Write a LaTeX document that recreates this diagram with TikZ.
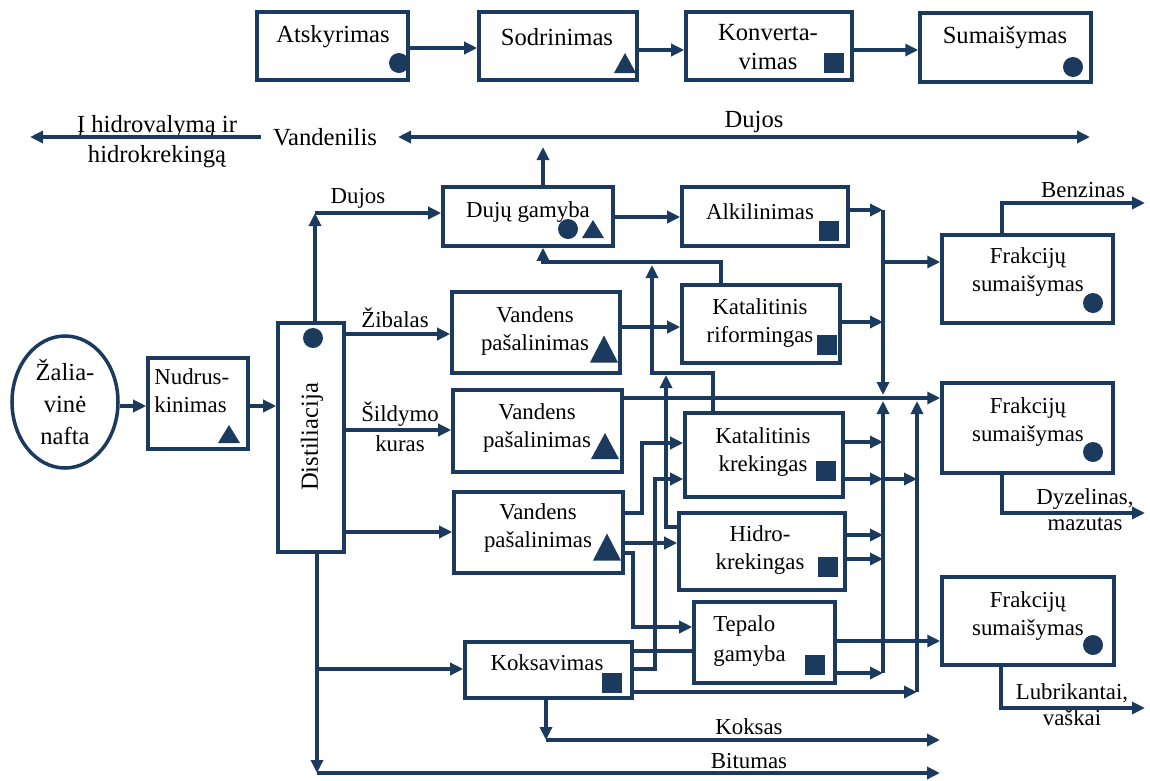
\documentclass[tikz,border=0pt]{standalone}
\usepackage{fontspec}
\setmainfont{Liberation Serif}
\usetikzlibrary{arrows.meta,fit,shapes.geometric}

\definecolor{navy}{HTML}{1C3A5E}

\tikzset{
  box/.style={draw=navy, line width=2pt, inner sep=0pt},
  lbl/.style={font=\fontsize{13}{16}\selectfont, align=center, inner sep=0pt},
  biglbl/.style={font=\fontsize{14}{17}\selectfont, align=center, inner sep=0pt},
  flow/.style={draw=navy, line width=2pt, ->},
  wire/.style={draw=navy, line width=2pt},
}

% process markers: circle, triangle, square
\newcommand{\markdot}[1]{\fill[navy] (#1) circle (2mm);}
\newcommand{\marktri}[3]{\fill[navy] (#1) ++(-#2,#3/2) -- ++(2*#2,0) -- ++(-#2,-#3) -- cycle;}
\newcommand{\marksq}[1]{\fill[navy] (#1) ++(-10,-10) rectangle ++(20,20);}

\begin{document}
\begin{tikzpicture}[x=0.2mm, y=-0.2mm, >={Triangle[length=2.6mm,width=2.4mm]}]
\useasboundingbox (0,0) rectangle (1150,780);

    % Top row: gas processing chain
    \node[box, fit={(257,12) (408,80)}] (atsk) {};
    \node[box, fit={(479,12) (637,80)}] (sodr) {};
    \node[box, fit={(686,12) (852,80)}] (konv) {};
    \node[box, fit={(920,13) (1091,82)}] (suma) {};
    \node[biglbl] (atsk-l) at (333,37) {Atskyrimas};
    \node[biglbl] (sodr-l) at (557,37) {Sodrinimas};
    \node[biglbl] (konv-l) at (768,47) {Konverta-\\vimas};
    \node[biglbl] (suma-l) at (1005,38) {Sumaišymas};
    \markdot{399,63}
    \marktri{625,63}{11}{20}
    \marksq{834,63}
    \markdot{1073,67}
    \draw[flow] (atsk.east |- 0,48) -- (sodr.west |- 0,48);
    \draw[flow] (sodr.east |- 0,50) -- (konv.west |- 0,50);
    \draw[flow] (konv.east |- 0,50) -- (suma.west |- 0,50);

    % Hydrogen and gas line
    \node[biglbl, inner xsep=2.4mm] (vanden) at (325,137) {Vandenilis};
    \node[biglbl] (hyd-l) at (157,142) {Į hidrovalymą ir\\hidrokrekingą};
    \node[biglbl] (gas-l) at (754,122) {Dujos};
    \coordinate (hydL) at (30,137);
    \coordinate (gasL) at (398,137);
    \coordinate (gasR) at (1090,137);
    \draw[flow] (vanden.west) -- (hydL);
    \draw[flow, <->] (gasL) -- (gasR);

    % Crude oil, desalting, distillation
    \node[draw=navy, line width=2pt, ellipse, minimum width=21.2mm, minimum height=26.4mm,
          inner sep=0pt, font=\fontsize{14}{18}\selectfont, align=center] (zal) at (65,402) {Žalia-\\vinė\\nafta};
    \node[box, fit={(148,358) (248,449)}] (nudr) {};
    \node[lbl, align=left, anchor=west] (nudr-l) at (154,391) {Nudrus-\\kinimas};
    \marktri{229,434}{11}{18}
    \node[box, fit={(278,323) (344,552)}] (dist) {};
    \node[biglbl, rotate=90] (dist-l) at (312,437) {Distiliacija};
    \markdot{313,338}
    \draw[flow] (zal.east |- 0,406) -- (nudr.west |- 0,406);
    \draw[flow] (nudr.east |- 0,406) -- (dist.west |- 0,406);

    % Processing units
    \node[box, fit={(443,187) (613,246)}] (duju) {};
    \node[box, fit={(682,187) (848,246)}] (alki) {};
    \node[box, fit={(452,292) (620,373)}] (vand1) {};
    \node[box, fit={(682,285) (840,363)}] (katr) {};
    \node[box, fit={(453,390) (622,472)}] (vand2) {};
    \node[box, fit={(685,413) (843,497)}] (katk) {};
    \node[box, fit={(454,492) (623,573)}] (vand3) {};
    \node[box, fit={(679,513) (845,590)}] (hidr) {};
    \node[box, fit={(694,602) (835,683)}] (tepa) {};
    \node[box, fit={(465,642) (632,698)}] (koks) {};
    \node[lbl] (duju-l) at (528,212) {Dujų gamyba};
    \node[lbl] (alki-l) at (760,212) {Alkilinimas};
    \node[lbl] (vand1-l) at (535,331) {Vandens\\pašalinimas};
    \node[lbl] (katr-l) at (760,323) {Katalitinis\\riformingas};
    \node[lbl] (vand2-l) at (537,428) {Vandens\\pašalinimas};
    \node[lbl] (katk-l) at (763,452) {Katalitinis\\krekingas};
    \node[lbl] (vand3-l) at (538,528) {Vandens\\pašalinimas};
    \node[lbl] (hidr-l) at (760,550) {Hidro-\\krekingas};
    \node[lbl, font=\fontsize{13}{17}\selectfont, align=left, anchor=west] (tepa-l) at (713,641) {Tepalo\\gamyba};
    \node[lbl] (koks-l) at (547,663) {Koksavimas};
    \markdot{568,229}
    \marktri{593,229}{11}{18}
    \marksq{829,231}
    \marktri{604,349}{14}{27}
    \marksq{827,345}
    \marktri{605,446}{14}{26}
    \marksq{826,471}
    \marktri{607,547}{14}{27}
    \marksq{828,567}
    \marksq{815,665}
    \marksq{612,683}

    % Blending units
    \node[box, fit={(942,235) (1113,323)}] (frk1) {};
    \node[box, fit={(942,383) (1113,473)}] (frk2) {};
    \node[box, fit={(942,577) (1114,665)}] (frk3) {};
    \node[lbl] (frk1-l) at (1028,272) {Frakcijų\\sumaišymas};
    \node[lbl] (frk2-l) at (1028,422) {Frakcijų\\sumaišymas};
    \node[lbl] (frk3-l) at (1028,616) {Frakcijų\\sumaišymas};
    \markdot{1093,303}
    \markdot{1093,452}
    \markdot{1093,645}

    % Distillation outputs
    \coordinate (dujC) at (315,213);
    \coordinate (bitC) at (317,773);
    \coordinate (bitR) at (940,773);
    \node[lbl] (duj-l) at (358,198) {Dujos};
    \node[lbl] (zib-l) at (395,318) {Žibalas};
    \node[lbl, font=\fontsize{13}{17}\selectfont] (sil-l) at (400,427) {Šildymo\\kuras};
    \node[lbl] (bit-l) at (749,761) {Bitumas};
    \draw[flow] (dist.north -| dujC) -- (dujC);
    \draw[flow] (dujC) -- (duju.west |- dujC);
    \draw[flow] (dist.east |- 0,334) -- (vand1.west |- 0,334);
    \draw[flow] (dist.east |- 0,430) -- (vand2.west |- 0,430);
    \draw[flow] (dist.east |- 0,532) -- (vand3.west |- 0,532);
    \draw[flow] (dist.south -| bitC) -- (bitC);
    \draw[flow] (bitC) -- (bitR);
    \draw[flow] (bitC |- 0,669) -- (koks.west |- 0,669);

    % Gas and reforming links
    \coordinate (gasUp) at (543,147);
    \coordinate (recyA) at (721,262);
    \coordinate (recyB) at (543,262);
    \coordinate (recyC) at (713,373);
    \coordinate (recyD) at (652,373);
    \coordinate (recyE) at (666,527);
    \draw[flow] (duju.north -| gasUp) -- (gasUp);
    \draw[flow] (duju.east |- 0,217) -- (alki.west |- 0,217);
    \draw[flow] (vand1.east |- 0,327) -- (katr.west |- 0,327);
    \draw[flow] (katr.north -| recyA) -- (recyA) -- (recyB) -- (duju.south -| recyB);
    \draw[flow, shorten >=0.6mm] (katk.north -| recyC) -- (recyC) -- (recyD) -- (recyD |- recyA);
    \draw[flow, shorten >=0.4mm] (hidr.west |- recyE) -- (recyE) -- (recyE |- recyC);

    % Feeds of cracking, hydrocracking and lube units
    \coordinate (v3a) at (642,513);
    \coordinate (v3c) at (633,553);
    \coordinate (kkb) at (655,669);
    \draw[flow] (vand3.east |- v3a) -- (v3a) -- (v3a |- 0,443) -- (katk.west |- 0,443);
    \draw[flow] (koks.east |- kkb) -- (kkb) -- (kkb |- 0,479) -- (katk.west |- 0,479);
    \draw[flow] (vand3.east |- 0,543) -- (hidr.west |- 0,543);
    \draw[flow] (vand3.east |- v3c) -- (v3c) -- (v3c |- 0,627) -- (tepa.west |- 0,627);
    \draw[wire] (koks.east |- 0,651) -- (tepa.west |- 0,651);

    % Collectors towards blending
    \coordinate (colA) at (883,210);
    \coordinate (colJ) at (883,398);
    \coordinate (colB) at (917,398);
    \draw[flow] (alki.east |- colA) -- (colA);
    \draw[flow, shorten >=0.6mm] (colA) -- (colJ);
    \draw[flow] (colA |- 0,262) -- (frk1.west |- 0,262);
    \draw[flow] (katr.east |- 0,322) -- (colA |- 0,322);
    \draw[flow] (vand2.east |- colJ) -- (frk2.west |- colJ);
    \draw[flow] (katk.east |- 0,442) -- (colJ |- 0,442);
    \draw[flow] (katk.east |- 0,479) -- (colJ |- 0,479);
    \draw[flow] (colJ |- 0,479) -- (colB |- 0,479);
    \draw[flow] (hidr.east |- 0,535) -- (colJ |- 0,535);
    \draw[flow] (hidr.east |- 0,559) -- (colJ |- 0,559);
    \draw[flow] (tepa.east |- 0,673) -- (colJ |- 0,673);
    \draw[flow] (tepa.east |- 0,641) -- (frk3.west |- 0,641);
    \draw[flow] (koks.east |- 0,692) -- (colB |- 0,692);
    \draw[flow, shorten >=0.6mm] (colJ |- 0,673) -- (colJ);
    \draw[flow, shorten >=0.6mm] (colB |- 0,692) -- (colB);

    % Coke
    \coordinate (koksC) at (546,740);
    \coordinate (koksR) at (940,740);
    \node[lbl] (koksas-l) at (749,727) {Koksas};
    \draw[flow] (koks.south -| koksC) -- (koksC);
    \draw[flow] (koksC) -- (koksR);

    % Products
    \coordinate (benC) at (1002,203);
    \coordinate (benR) at (1145,203);
    \coordinate (dyzC) at (1002,513);
    \coordinate (dyzR) at (1145,513);
    \coordinate (lubC) at (1001,708);
    \coordinate (lubR) at (1145,708);
    \node[lbl] (ben-l) at (1083,190) {Benzinas};
    \node[lbl, font=\fontsize{13}{14.8}\selectfont] (dyz-l) at (1085,510) {Dyzelinas,\\mazutas};
    \node[lbl, font=\fontsize{13}{14.8}\selectfont] (lub-l) at (1072,705) {Lubrikantai,\\vaškai};
    \draw[flow] (frk1.north -| benC) -- (benC) -- (benR);
    \draw[flow] (frk2.south -| dyzC) -- (dyzC) -- (dyzR);
    \draw[flow] (frk3.south -| lubC) -- (lubC) -- (lubR);

\end{tikzpicture}
\end{document}
